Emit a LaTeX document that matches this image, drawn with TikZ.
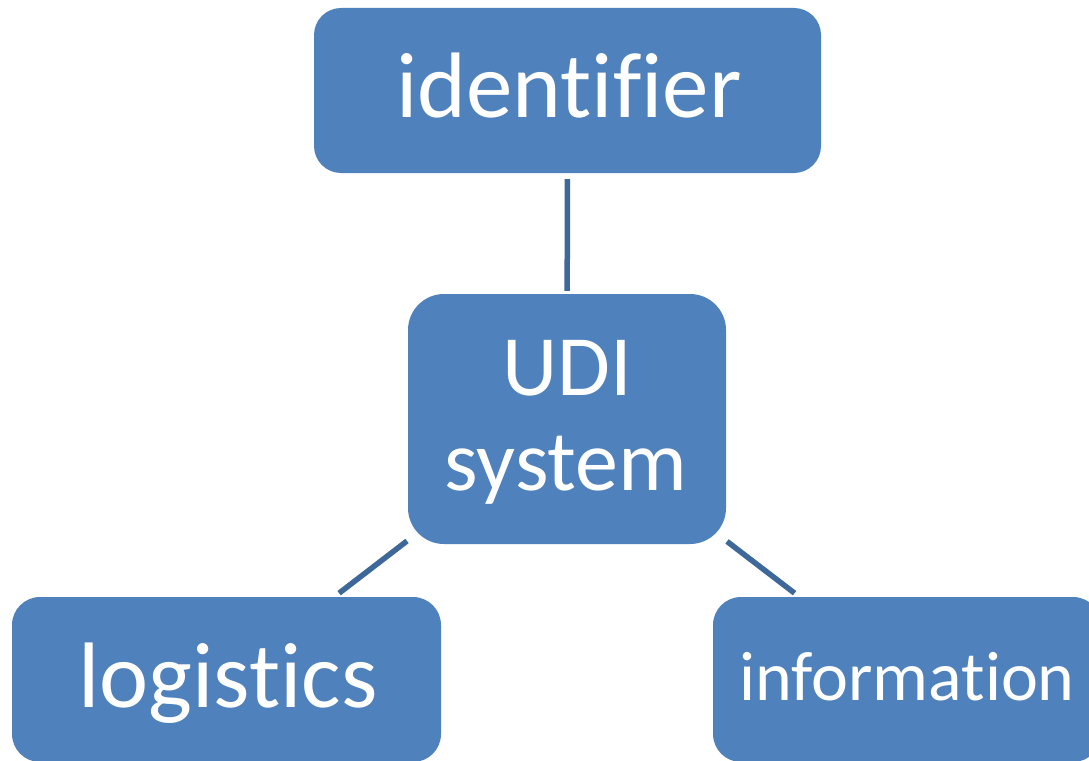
\documentclass[tikz,border=0pt]{standalone}
\usepackage{fontspec}
\setmainfont{Carlito}[Ligatures={NoCommon}]
\definecolor{boxblue}{HTML}{4F81BD}
\definecolor{linkblue}{HTML}{3D6899}
\begin{document}
\begin{tikzpicture}[x=1pt,y=-1pt,
  box/.style={rectangle, fill=boxblue, draw=none, inner sep=0pt},
  lbl/.style={text=white, inner sep=0pt, anchor=base, font=\fontsize{86}{93}\selectfont},
  biglbl/.style={lbl, font=\fontsize{93}{100}\selectfont},
  smalllbl/.style={lbl, font=\fontsize{70}{76}\selectfont},
  link/.style={draw=linkblue, line width=5.5pt}]
\useasboundingbox (0,0) rectangle (1089,760);
% boxes
\node[box, rounded corners=27pt, minimum width=507pt, minimum height=165pt] (id) at (567.5,90.5) {};
\node[box, rounded corners=36pt, minimum width=318pt, minimum height=250pt] (udi) at (567,419) {};
\node[box, rounded corners=28pt, minimum width=429pt, minimum height=165pt] (log) at (226.5,679.5) {};
\node[box, rounded corners=28pt, minimum width=388pt, minimum height=165pt] (info) at (907,679.5) {};
% connectors
\draw[link, shorten <=6pt, shorten >=3pt] (id) -- (udi);
\draw[link, shorten <=1pt, shorten >=6pt] (udi) -- (log);
\draw[link, shorten <=1pt, shorten >=6pt] (udi) -- (info);
% labels
\node[biglbl] (idtxt) at (569,117) {identifier};
\node[lbl] (udit1) at (567,395) {UDI};
\node[lbl] (udit2) at (566,490) {system};
\node[biglbl] (logtxt) at (228,707) {logistics};
\node[smalllbl] (infotxt) at (907,700) {information};
\end{tikzpicture}
\end{document}
